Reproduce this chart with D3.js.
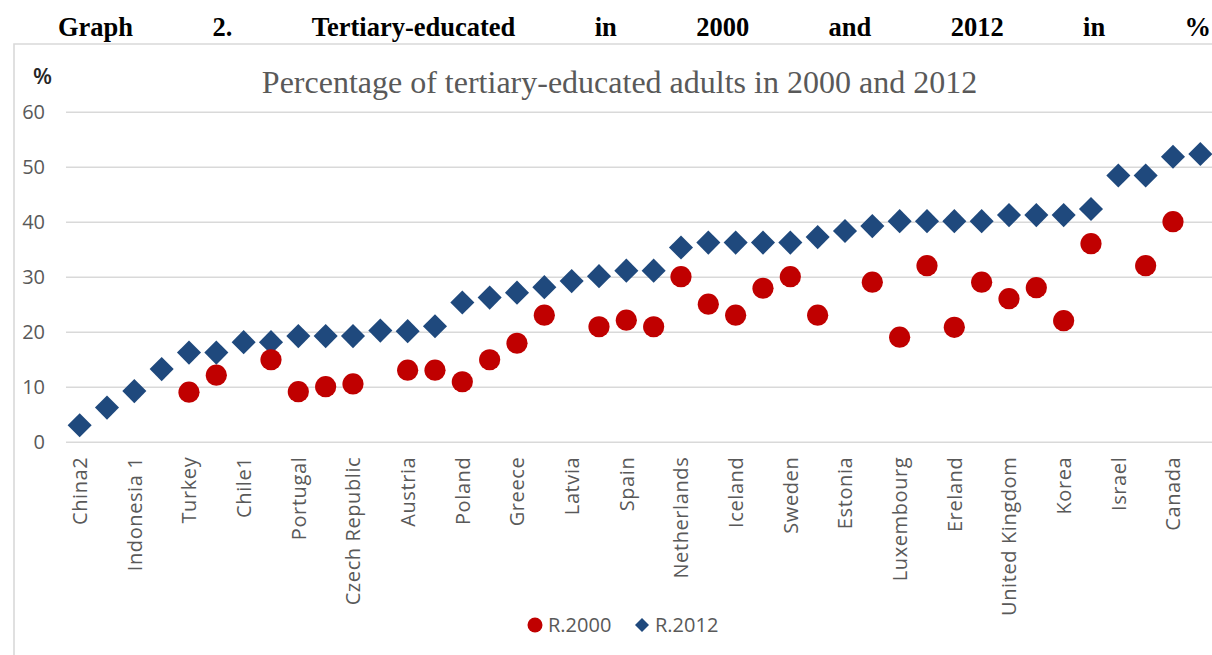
<!DOCTYPE html>
<html>
<head>
<meta charset="utf-8">
<script src="https://cdn.jsdelivr.net/npm/d3@7"></script>
<style>
  html, body { margin: 0; padding: 0; background: #fff; }
  svg { display: block; }
</style>
</head>
<body>
<svg id="chart" width="1212" height="655"></svg>
<script>
// Countries, ordered by the 2012 share (only every second name is printed on the axis)
const categories = [
  "China2", "South Africa", "Indonesia 1", "Brazil", "Turkey", "Italy", "Chile1", "Mexico",
  "Portugal", "Slovak Republic", "Czech Republic", "Hungary", "Austria", "Argentina",
  "Poland", "Slovenia", "Greece", "Germany", "Latvia", "France", "Spain", "OECD average",
  "Netherlands", "Denmark", "Iceland", "Belgium", "Sweden", "Switzerland", "Estonia",
  "Norway", "Luxembourg", "Finland", "Ereland", "New Zealand", "United Kingdom",
  "Australia", "Korea", "United States", "Israel", "Japan", "Canada", "Russian Federation"
];

// Share of tertiary-educated adults, % (null = no 2000 figure)
const r2000 = [
  null, null, null, null, 9, 12.1, null, 14.9,
  9.1, 10, 10.5, null, 13, 13,
  10.9, 14.9, 17.9, 23, null, 20.9, 22.1, 20.9,
  30, 25, 23, 27.9, 30, 23, null,
  29, 19, 32, 20.8, 29, 26,
  28, 22, 36, null, 32, 40, null
];
const r2012 = [
  3, 6.2, 9.2, 13.2, 16.2, 16.2, 18.1, 18.1,
  19.2, 19.2, 19.2, 20.2, 20.1, 21,
  25.3, 26.2, 27.1, 28.1, 29.2, 30.1, 31.1, 31.1,
  35.3, 36.2, 36.2, 36.2, 36.2, 37.2, 38.3,
  39.2, 40.1, 40.1, 40.1, 40.1, 41.2,
  41.2, 41.2, 42.3, 48.4, 48.4, 51.8, 52.3
];

const yTicks = [0, 10, 20, 30, 40, 50, 60];
const seriesNames = ["R.2000", "R.2012"];
const headingWords = ["Graph", "2.", "Tertiary-educated", "in", "2000", "and", "2012", "in", "%"];
const chartTitle = "Percentage of tertiary-educated adults in 2000 and 2012";
const axisUnit = "%";

const RED = "#C00000";
const BLUE = "#1F497D";
const GREY_TEXT = "#595959";
const GRID = "#d9d9d9";
const SANS = "'Open Sans', 'Noto Sans', sans-serif";
const SERIF = "'Liberation Serif', 'Times New Roman', serif";

const svg = d3.select("#chart");

// Page heading, justified across the line
const heading = svg.append("g")
  .attr("font-family", SERIF)
  .attr("font-weight", "bold")
  .attr("font-size", 26.5)
  .attr("fill", "#000");
const words = heading.selectAll("text").data(headingWords).join("text")
  .attr("y", 36)
  .text(d => d);
const widths = words.nodes().map(n => n.getComputedTextLength());
const left = 58, right = 1211;
const gap = (right - left - d3.sum(widths)) / (headingWords.length - 1);
let cursor = left;
words.attr("x", (d, i) => { const x = cursor; cursor += widths[i] + gap; return x; });

// Chart frame
svg.append("path")
  .attr("d", "M14,655 L14,44 L1213,44")
  .attr("fill", "none")
  .attr("stroke", GRID)
  .attr("stroke-width", 1.6);

// Scales
const x = d3.scaleBand().domain(categories).range([66, 1214]);
const y = d3.scaleLinear().domain([0, 60]).range([441.7, 111.7]);
const cx = d => x(d) + x.bandwidth() / 2;

// Gridlines
svg.append("g")
  .attr("transform", "translate(66,0)")
  .call(d3.axisLeft(y).tickValues(yTicks).tickSize(-1150).tickFormat(""))
  .call(g => g.select(".domain").remove())
  .call(g => g.selectAll("line").attr("stroke", GRID).attr("stroke-width", 1.5));

// Y axis labels
svg.append("g")
  .attr("transform", "translate(45,0)")
  .call(d3.axisLeft(y).tickValues(yTicks).tickSize(0).tickPadding(0))
  .call(g => g.select(".domain").remove())
  .call(g => g.selectAll("text")
    .attr("font-family", SANS)
    .attr("font-size", 20)
    .attr("fill", GREY_TEXT));

svg.append("text")
  .attr("x", 42.5).attr("y", 84)
  .attr("text-anchor", "middle")
  .attr("font-family", SANS)
  .attr("font-size", 22)
  .attr("font-weight", 600)
  .attr("fill", "#262626")
  .text(axisUnit);

// X axis: every second category is labelled
svg.append("g")
  .attr("transform", `translate(0,${y(0)})`)
  .call(d3.axisBottom(x).tickValues(categories.filter((d, i) => i % 2 === 0)).tickSize(0))
  .call(g => g.select(".domain").remove())
  .call(g => g.selectAll("text")
    .attr("font-family", SANS)
    .attr("font-size", 20)
    .attr("letter-spacing", 0.6)
    .attr("fill", GREY_TEXT)
    .attr("text-anchor", "end")
    .attr("transform", "rotate(-90)")
    .attr("x", -15)
    .attr("y", 0)
    .attr("dy", "0.36em"));

// Chart title
svg.append("text")
  .attr("x", 619.5).attr("y", 93)
  .attr("text-anchor", "middle")
  .attr("font-family", SERIF)
  .attr("font-size", 32)
  .attr("fill", GREY_TEXT)
  .text(chartTitle);

// R.2012 diamonds
const diamond = d3.symbol().type(d3.symbolSquare).size(290);
svg.append("g").selectAll("path")
  .data(categories.map((c, i) => ({ c, v: r2012[i] })).filter(d => d.v != null))
  .join("path")
  .attr("d", diamond)
  .attr("transform", d => `translate(${cx(d.c)},${y(d.v)}) rotate(45)`)
  .attr("fill", BLUE);

// R.2000 circles
svg.append("g").selectAll("circle")
  .data(categories.map((c, i) => ({ c, v: r2000[i] })).filter(d => d.v != null))
  .join("circle")
  .attr("cx", d => cx(d.c))
  .attr("cy", d => y(d.v))
  .attr("r", 10.6)
  .attr("fill", RED);

// Legend
const legend = svg.append("g").attr("font-family", SANS).attr("font-size", 20).attr("fill", GREY_TEXT);
legend.append("circle").attr("cx", 535).attr("cy", 625).attr("r", 7.5).attr("fill", RED);
legend.append("text").attr("x", 548).attr("y", 632).text(seriesNames[0]);
legend.append("path")
  .attr("d", d3.symbol().type(d3.symbolSquare).size(98)())
  .attr("transform", "translate(642,625) rotate(45)")
  .attr("fill", BLUE);
legend.append("text").attr("x", 655).attr("y", 632).text(seriesNames[1]);
</script>
</body>
</html>
